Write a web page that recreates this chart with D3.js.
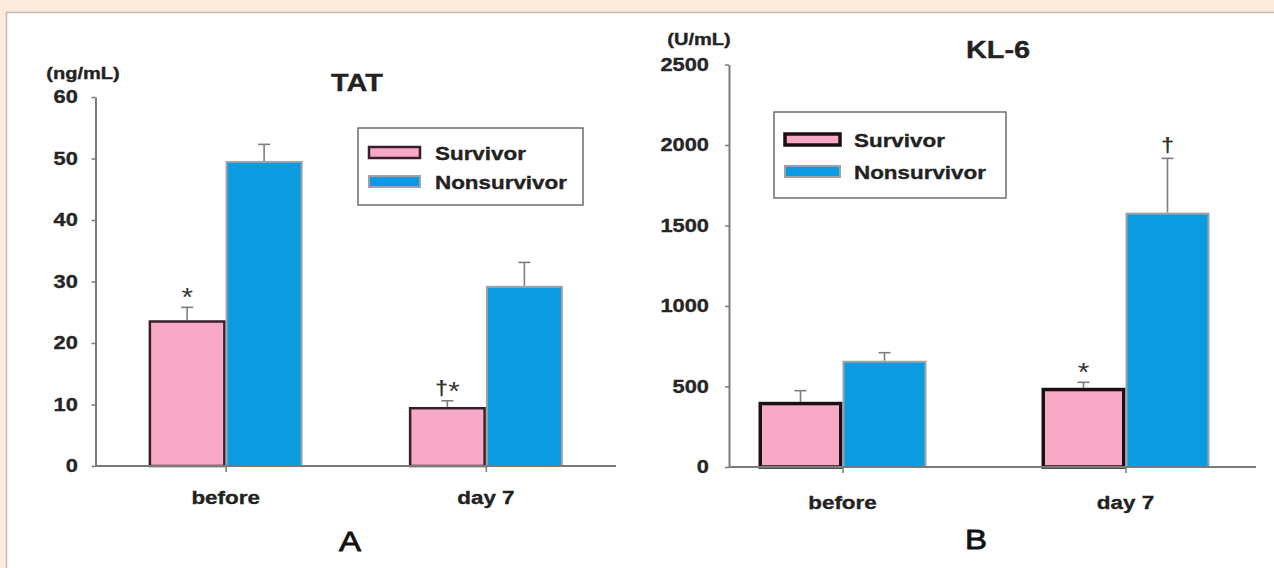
<!DOCTYPE html>
<html>
<head>
<meta charset="utf-8">
<script src="https://cdn.jsdelivr.net/npm/d3@7"></script>
<style>
  html, body { margin: 0; padding: 0; background: #fcebdf; }
  svg { display: block; }
  text { font-family: "Liberation Sans", Arial, sans-serif; }
</style>
</head>
<body>
<svg id="fig" width="1274" height="568"></svg>
<script>
// ---- data ----
const categories = ["before", "day 7"];
const seriesNames = ["Survivor", "Nonsurvivor"];

// TAT (ng/mL): means and standard errors
const tatSurvivor = [23.7, 9.6];
const tatSurvivorErr = [2.1, 1.0];
const tatNonsurvivor = [49.6, 29.3];
const tatNonsurvivorErr = [2.7, 3.8];
const tatTicks = [0, 10, 20, 30, 40, 50, 60];
const tatMarks = [["*", ""], ["†*", ""]];

// KL-6 (U/mL): means and standard errors
const kl6Survivor = [405, 492];
const kl6SurvivorErr = [69, 34];
const kl6Nonsurvivor = [660, 1580];
const kl6NonsurvivorErr = [50, 337];
const kl6Ticks = [0, 500, 1000, 1500, 2000, 2500];
const kl6Marks = [["", ""], ["*", "†"]];

// ---- drawing ----
const SX = 1.18; // horizontal stretch applied to all lettering
const svg = d3.select("#fig");

// page frame
svg.append("rect").attr("x", 0).attr("y", 0).attr("width", 1274).attr("height", 568).attr("fill", "#fcebdf");
svg.append("rect").attr("x", 6.5).attr("y", 12.5).attr("width", 1290).attr("height", 600)
  .attr("fill", "#ffffff").attr("stroke", "#c9b9ae").attr("stroke-width", 1.5);

function label(g, x, y, str, o = {}) {
  const fill = o.fill || "#222";
  return g.append("text")
    .attr("transform", `translate(${x},${y}) scale(${o.sx || SX},1)`)
    .attr("text-anchor", o.anchor || "middle")
    .attr("font-size", o.size || 19)
    .attr("font-weight", o.weight || "bold")
    .attr("fill", fill)
    .attr("stroke", fill).attr("stroke-width", o.thick || 0.35)
    .text(str);
}

// significance symbols: daggers bold and raised, asterisks larger
function sigMark(g, x, y, str) {
  const t = g.append("text")
    .attr("transform", `translate(${x},${y}) scale(${SX},1)`)
    .attr("text-anchor", "middle").attr("fill", "#333");
  let raised = false;
  for (const ch of str) {
    const sp = t.append("tspan").text(ch);
    if (ch === "†") {
      sp.attr("font-size", 20).attr("font-weight", "bold").attr("dy", raised ? 0 : -5);
      raised = true;
    } else {
      sp.attr("font-size", 25).attr("font-weight", "normal").attr("dy", raised ? 5 : 0);
      raised = false;
    }
  }
}

const survivorStyle = { fill: "#f8a9c6" };
const nonsurvivorStyle = { fill: "#0a9be0", stroke: "#9ea3a8", sw: 2 };

function panel(cfg) {
  const g = svg.append("g");
  const y = d3.scaleLinear().domain([0, cfg.ticks[cfg.ticks.length - 1]]).range([cfg.y0, cfg.yTop]);
  const x = d3.scalePoint().domain(categories).range(cfg.xRange).padding(0.5);
  const inner = d3.scaleBand().domain(seriesNames).range([-cfg.barW, cfg.barW]).padding(0);

  const rows = categories.map((c, i) => ({
    cat: c,
    vals: [
      { s: seriesNames[0], v: cfg.surv[i], e: cfg.survErr[i], mark: cfg.marks[i][0] },
      { s: seriesNames[1], v: cfg.non[i], e: cfg.nonErr[i], mark: cfg.marks[i][1] }
    ]
  }));

  // error bars (upper whisker only), drawn behind the bar outline
  rows.forEach(r => r.vals.forEach(d => {
    const cx = x(r.cat) + inner(d.s) + inner.bandwidth() / 2;
    g.append("line").attr("x1", cx).attr("x2", cx).attr("y1", y(d.v)).attr("y2", y(d.v + d.e))
      .attr("stroke", "#7d7d7d").attr("stroke-width", 1.6);
    g.append("line").attr("x1", cx - 6).attr("x2", cx + 6).attr("y1", y(d.v + d.e)).attr("y2", y(d.v + d.e))
      .attr("stroke", "#7d7d7d").attr("stroke-width", 1.6);
  }));

  // bars
  rows.forEach(r => r.vals.forEach((d, j) => {
    const st = j === 0 ? cfg.survStroke : nonsurvivorStyle;
    const sw = st.sw;
    g.append("rect")
      .attr("x", x(r.cat) + inner(d.s) + sw / 2)
      .attr("y", y(d.v) + sw / 2)
      .attr("width", inner.bandwidth() - sw)
      .attr("height", y(0) - y(d.v) - sw / 2)
      .attr("fill", j === 0 ? survivorStyle.fill : nonsurvivorStyle.fill)
      .attr("stroke", st.stroke).attr("stroke-width", sw);
  }));

  // significance marks
  rows.forEach(r => r.vals.forEach(d => {
    if (!d.mark) return;
    const cx = x(r.cat) + inner(d.s) + inner.bandwidth() / 2;
    sigMark(g, cx, y(d.v + d.e) - 1, d.mark);
  }));

  // y axis
  const ya = g.append("g").attr("transform", `translate(${cfg.xAxis},0)`)
    .call(d3.axisLeft(y).tickValues(cfg.ticks).tickFormat(d3.format("d"))
      .tickSize(4).tickSizeOuter(0).tickPadding(cfg.tickPad));
  ya.select(".domain").attr("stroke", "#7a7a7a").attr("stroke-width", 2);
  ya.selectAll(".tick line").attr("stroke", "#7a7a7a").attr("stroke-width", 1.5);
  ya.selectAll(".tick text")
    .attr("font-family", "Liberation Sans, Arial, sans-serif")
    .attr("font-size", 18.5).attr("font-weight", "bold").attr("fill", "#262626")
    .attr("stroke", "#262626").attr("stroke-width", 0.35)
    .attr("transform", `scale(${SX},1)`);

  // x axis: baseline line with tick marks at group centres
  const xa = g.append("g").attr("transform", `translate(0,${cfg.y0})`)
    .call(d3.axisBottom(x).tickSize(6).tickSizeOuter(0).tickFormat(""));
  xa.select(".domain").remove();
  xa.selectAll(".tick line").attr("stroke", "#7a7a7a").attr("stroke-width", 1.5);
  g.append("line").attr("x1", cfg.xAxis).attr("x2", cfg.xEnd).attr("y1", cfg.y0).attr("y2", cfg.y0)
    .attr("stroke", "#7a7a7a").attr("stroke-width", 2);

  categories.forEach(c => label(g, x(c), cfg.catY, c, { size: 19 }));

  // titles
  label(g, cfg.titleX, cfg.titleY, cfg.title, { size: 24.5 });
  label(g, cfg.unitX, cfg.unitY, cfg.unit, { size: 17 });
  label(g, cfg.letterX, cfg.letterY, cfg.letter, { size: 28, weight: "normal", fill: "#111", thick: 0.8 });

  // legend
  const L = cfg.legend;
  g.append("rect").attr("x", L.x).attr("y", L.y).attr("width", L.w).attr("height", L.h)
    .attr("fill", "#fff").attr("stroke", "#6e6e6e").attr("stroke-width", 1.5);
  seriesNames.forEach((s, j) => {
    const st = j === 0 ? cfg.survStroke : nonsurvivorStyle;
    g.append("rect").attr("x", L.sx).attr("y", L.rows[j] - L.sh / 2).attr("width", L.sw).attr("height", L.sh)
      .attr("fill", j === 0 ? survivorStyle.fill : nonsurvivorStyle.fill)
      .attr("stroke", st.stroke).attr("stroke-width", st.sw);
    label(g, L.tx, L.rows[j] + 7.5, s, { size: 19, anchor: "start" });
  });
}

panel({
  surv: tatSurvivor, survErr: tatSurvivorErr, non: tatNonsurvivor, nonErr: tatNonsurvivorErr,
  ticks: tatTicks, marks: tatMarks,
  y0: 466, yTop: 97, xAxis: 95.5, xEnd: 616, xRange: [95.5, 616], barW: 77, tickPad: 11,
  survStroke: { stroke: "#3a1d2a", sw: 2.5 },
  catY: 503.5, title: "TAT", titleX: 357, titleY: 90.5,
  unit: "(ng/mL)", unitX: 83, unitY: 79, letter: "A", letterX: 350, letterY: 551,
  legend: { x: 358, y: 128, w: 225, h: 77, sx: 369, sw: 51, sh: 11, tx: 435, rows: [152.5, 181.5] }
});

panel({
  surv: kl6Survivor, survErr: kl6SurvivorErr, non: kl6Nonsurvivor, nonErr: kl6NonsurvivorErr,
  ticks: kl6Ticks, marks: kl6Marks,
  y0: 467, yTop: 64.5, xAxis: 729, xEnd: 1256, xRange: [701, 1267], barW: 84, tickPad: 13,
  survStroke: { stroke: "#1a1014", sw: 3.5 },
  catY: 509, title: "KL-6", titleX: 998, titleY: 58,
  unit: "(U/mL)", unitX: 699, unitY: 45, letter: "B", letterX: 976, letterY: 549,
  legend: { x: 774, y: 112, w: 232, h: 86, sx: 785, sw: 55, sh: 11, tx: 854, rows: [139.5, 171.5] }
});
</script>
</body>
</html>
